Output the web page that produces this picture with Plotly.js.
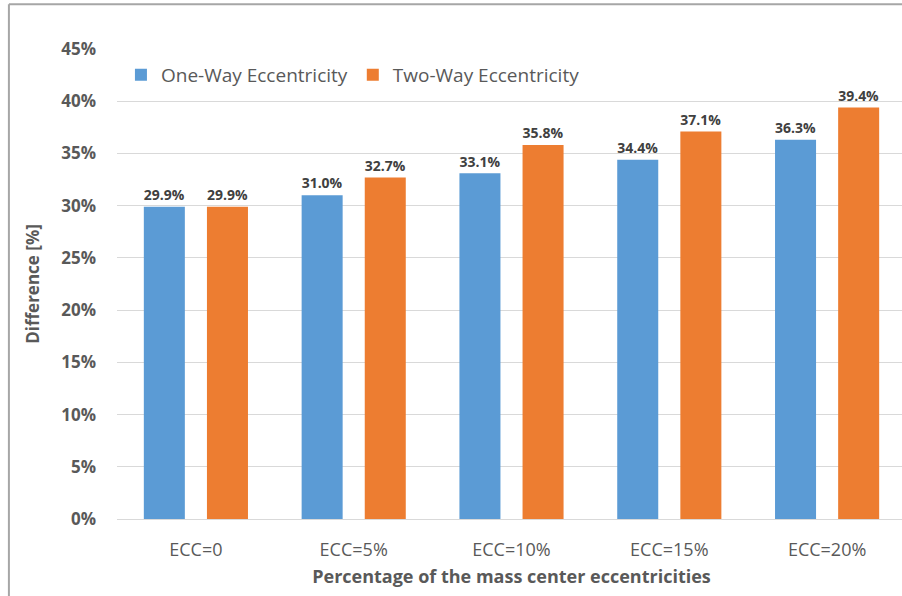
<!DOCTYPE html>
<html>
<head>
<meta charset="utf-8">
<script src="https://cdn.plot.ly/plotly-3.0.1.min.js"></script>
<style>
  html, body { margin: 0; padding: 0; overflow: hidden; background: #fff; }
  #chart { width: 906px; height: 596px; }
</style>
</head>
<body>
<div id="chart"></div>
<script>
// Difference (%) by mass-centre eccentricity case
const categories = ["ECC=0", "ECC=5%", "ECC=10%", "ECC=15%", "ECC=20%"];
const oneWay = [29.9, 31.0, 33.1, 34.4, 36.3];
const twoWay = [29.9, 32.7, 35.8, 37.1, 39.4];
const seriesNames = ["One-Way Eccentricity", "Two-Way Eccentricity"];
const yTicks = [0, 5, 10, 15, 20, 25, 30, 35, 40, 45];

const FONT = "Open Sans, Liberation Sans, sans-serif";
const TEXT = "#595959";

function barTrace(name, values, color) {
  return {
    type: "bar",
    name: name,
    x: categories,
    y: values,
    marker: { color: color },
    text: values.map(v => v.toFixed(1) + "%"),
    textposition: "outside",
    cliponaxis: false,
    textfont: { family: FONT, size: 15, color: "#404040", weight: "bold" },
    hoverinfo: "x+y"
  };
}

const data = [
  barTrace(seriesNames[0], oneWay, "#5B9BD5"),
  barTrace(seriesNames[1], twoWay, "#ED7D31")
];

const layout = {
  width: 906,
  height: 596,
  margin: { l: 117, r: 0, t: 49, b: 77 },
  paper_bgcolor: "#fff",
  plot_bgcolor: "#fff",
  barmode: "group",
  bargap: 0.2,
  bargroupgap: 0.35,
  font: { family: FONT, color: TEXT },
  showlegend: true,
  legend: {
    orientation: "h",
    x: 0.005, xanchor: "left",
    y: 0.945, yanchor: "middle",
    font: { family: FONT, size: 19, color: TEXT },
    bgcolor: "rgba(0,0,0,0)",
    itemwidth: 30,
    traceorder: "normal"
  },
  xaxis: {
    type: "category",
    tickfont: { family: FONT, size: 18, color: TEXT },
    showline: true, linecolor: "#d9d9d9", linewidth: 1,
    ticks: "", ticklen: 0,
    ticklabelstandoff: 14,
    title: {
      text: "Percentage of the mass center eccentricities",
      font: { family: FONT, size: 18, color: TEXT, weight: "bold" },
      standoff: 10
    }
  },
  yaxis: {
    range: [0, 45],
    tickvals: yTicks,
    ticktext: yTicks.map(v => v + "%"),
    tickfont: { family: FONT, size: 17, color: TEXT, weight: "bold" },
    ticklabelstandoff: 20,
    gridcolor: "#d9d9d9", gridwidth: 1,
    zeroline: false,
    ticks: "", ticklen: 0,
    title: {
      text: "Difference [%]",
      font: { family: FONT, size: 17, color: TEXT, weight: "bold" },
      standoff: 17
    }
  },
  shapes: [
    { type: "line", xref: "paper", yref: "paper", x0: -0.137, x1: 1.1, y0: 1.095, y1: 1.095,
      line: { color: "#a6a6a6", width: 2 } },
    { type: "line", xref: "paper", yref: "paper", x0: -0.137, x1: -0.137, y0: 1.095, y1: -0.2,
      line: { color: "#a6a6a6", width: 2 } }
  ]
};

Plotly.newPlot("chart", data, layout, { displayModeBar: false, staticPlot: true });
</script>
</body>
</html>
